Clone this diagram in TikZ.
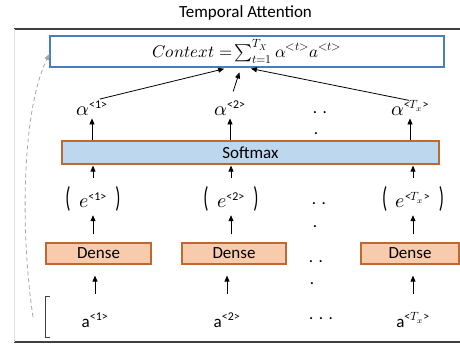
\documentclass[tikz,border=0pt]{standalone}
\usepackage{fontspec}
\usepackage{unicode-math}
\setmainfont{Carlito}
\setmathfont{Latin Modern Math}
\usetikzlibrary{arrows.meta}
\definecolor{ctxblue}{RGB}{74,126,187}
\definecolor{smfill}{RGB}{189,215,238}
\definecolor{dnfill}{RGB}{248,203,173}
\definecolor{boxline}{RGB}{190,105,50}
\definecolor{rulegray}{RGB}{64,64,64}
\newcommand{\bigsym}[1]{{\fontsize{20}{24}\selectfont$#1$}}
\newcommand{\lpar}{\scalebox{1}[1.7]{(}}
\newcommand{\rpar}{\scalebox{1}[1.7]{)}}
\begin{document}
\begin{tikzpicture}[x=1pt,y=-1pt,>={Triangle[length=6pt,width=5pt]},
  every node/.style={font=\fontsize{17}{20}\selectfont},
  lbl/.style={inner sep=0pt,anchor=base},
  layer/.style={draw=boxline,line width=1.2pt,inner sep=0pt,minimum height=22pt}]
\useasboundingbox (0,0) rectangle (460,345);
%frame
  \draw[rulegray,line width=1.5pt] (14,29) -- (460,29);
  \draw[rulegray,line width=1.5pt] (14,342) -- (460,342);
  \draw[gray!25,line width=1pt] (14,29) -- (14,342);
  \node (title) at (245.5,13) {Temporal Attention};
%context
  \node[draw=ctxblue,line width=1.2pt,minimum width=394pt,minimum height=31pt,inner sep=0pt]
    (ctx) at (247,51.5) {$Context =\!\sum_{t=1}^{T_X}\alpha^{<t>}a^{<t>}$};
%alpha
  \node[lbl] (al1) at (92,115) {\bigsym{\alpha}\textsuperscript{<1>}};
  \node[lbl] (al2) at (230,115) {\bigsym{\alpha}\textsuperscript{<2>}};
  \node[lbl] (al3) at (410,115) {\bigsym{\alpha}\textsuperscript{<$T_x$>}};
  \node[lbl] (dal1) at (320,113) {.\hspace{5.5pt}.};
  \node[lbl] (dal2) at (316,134) {.};
%softmax
  \node[layer,fill=smfill,minimum width=377pt,minimum height=23pt] (sm) at (250.5,152.5) {Softmax};
%energies
  \node[lbl] (e1) at (93,207) {\lpar\enspace\bigsym{e}\textsuperscript{<1>}\enspace\rpar};
  \node[lbl] (e2) at (231,207) {\lpar\enspace\bigsym{e}\textsuperscript{<2>}\enspace\rpar};
  \node[lbl] (e3) at (413,207) {\lpar\enspace\bigsym{e}\textsuperscript{<$T_x$>}\enspace\rpar};
  \node[lbl] (de1) at (319,204) {.\hspace{5.5pt}.};
  \node[lbl] (de2) at (315,227) {.};
%dense
  \node[layer,fill=dnfill,minimum width=105pt,minimum height=21pt] (dn1) at (98.5,253.5) {Dense};
  \node[layer,fill=dnfill,minimum width=104pt,minimum height=21pt] (dn2) at (234,253.5) {Dense};
  \node[layer,fill=dnfill,minimum width=98pt,minimum height=21pt] (dn3) at (410,253.5) {Dense};
  \node[lbl] (ddn1) at (316,262) {.\hspace{5.5pt}.};
  \node[lbl] (ddn2) at (312,284) {.};
%inputs
  \node[lbl] (a1) at (95,327) {a\textsuperscript{<1>}};
  \node[lbl] (a2) at (227,327) {a\textsuperscript{<2>}};
  \node[lbl] (a3) at (413,327) {a\textsuperscript{<$T_x$>}};
  \node[lbl] (da) at (321,319) {.\hspace{5.5pt}.\hspace{5.5pt}.};
  \draw[rulegray,thick] (50,296) -- (45,296) -- (45,337) -- (50,337);
  \coordinate (src) at (33,317);
%paths
  \path[->,thick]
    (a1.north) edge[shorten <=19pt,shorten >=11pt] (a1.north |- dn1.south)
    (a2.north) edge[shorten <=19pt,shorten >=11pt] (a2.north |- dn2.south)
    (a3.north) edge[shorten <=19pt,shorten >=11pt] (a3.north |- dn3.south)
    (dn1.north -| e1) edge[shorten <=8pt,shorten >=4pt] (e1.south)
    (dn2.north -| e2) edge[shorten <=8pt,shorten >=4pt] (e2.south)
    (dn3.north -| e3) edge[shorten <=8pt,shorten >=4pt] (e3.south)
    (e1.north) edge[shorten <=8pt,shorten >=1pt] (e1.north |- sm.south)
    (e2.north) edge[shorten <=8pt,shorten >=1pt] (e2.north |- sm.south)
    (e3.north) edge[shorten <=8pt,shorten >=1pt] (e3.north |- sm.south)
    (sm.north -| al1) edge[shorten >=3pt] (al1.south)
    (sm.north -| al2) edge[shorten >=3pt] (al2.south)
    (sm.north -| al3) edge[shorten >=3pt] (al3.south)
    (al1.north) edge[shorten <=8pt,shorten >=5pt] ([xshift=-18pt]ctx.south)
    (al2.north) edge[shorten <=10pt,shorten >=5pt] ([xshift=-6pt]ctx.south)
    (al3.north) edge[shorten <=1pt,shorten >=5pt] ([xshift=-1pt]ctx.south);
  \draw[->,gray!70,thick,dash pattern=on 4pt off 3pt]
    (src) .. controls (20,230) and (22,110) .. ([yshift=-2.5pt]ctx.west);
\end{tikzpicture}
\end{document}
